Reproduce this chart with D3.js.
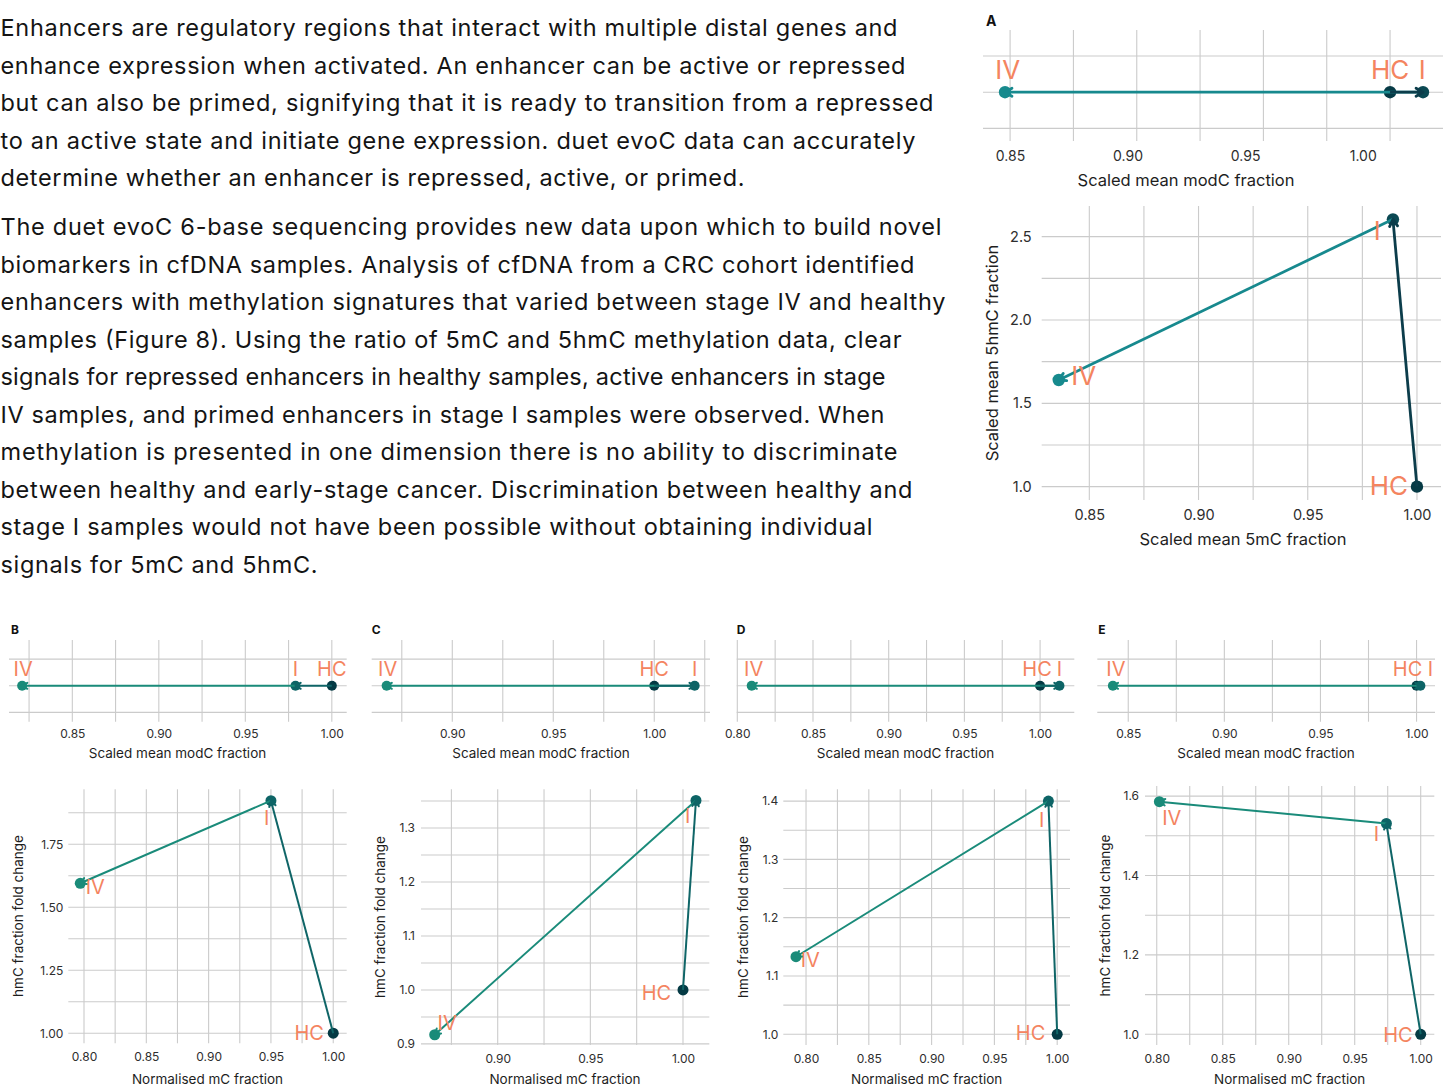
<!DOCTYPE html>
<html>
<head>
<meta charset="utf-8">
<script src="https://cdn.jsdelivr.net/npm/d3@7"></script>
<style>
  html, body { margin: 0; padding: 0; background: #ffffff; }
  svg { display: block; }
</style>
</head>
<body>
<svg id="fig" width="1449" height="1089"></svg>
<script>
// ---------------------------------------------------------------
// Data: stages in path order (HC -> I -> IV)
// ---------------------------------------------------------------
const stages = ["HC", "I", "IV"];

// Panel A
const aModC = [1.000, 1.013, 0.848];
const aMC   = [1.000, 0.989, 0.836];
const aHmC  = [1.000, 2.604, 1.640];
// Panel B
const bModC = [1.000, 0.979, 0.821];
const bMC   = [1.000, 0.950, 0.797];
const bHmC  = [1.000, 1.923, 1.595];
// Panel C
const cModC = [1.000, 1.020, 0.8675];
const cMC   = [1.000, 1.007, 0.866];
const cHmC  = [1.000, 1.351, 0.917];
// Panel D
const dModC = [1.000, 1.0128, 0.8095];
const dMC   = [1.000, 0.993, 0.792];
const dHmC  = [1.000, 1.400, 1.133];
// Panel E
const eModC = [1.000, 1.002, 0.842];
const eMC   = [1.000, 0.974, 0.802];
const eHmC  = [1.000, 1.531, 1.586];

// Tick labels
const aModCTicks = ["0.85", "0.90", "0.95", "1.00"];
const aMCTicks   = ["0.85", "0.90", "0.95", "1.00"];
const aHmCTicks  = ["1.0", "1.5", "2.0", "2.5"];
const bModCTicks = ["0.85", "0.90", "0.95", "1.00"];
const bMCTicks   = ["0.80", "0.85", "0.90", "0.95", "1.00"];
const bHmCTicks  = ["1.00", "1.25", "1.50", "1.75"];
const cModCTicks = ["0.90", "0.95", "1.00"];
const cMCTicks   = ["0.90", "0.95", "1.00"];
const cHmCTicks  = ["0.9", "1.0", "1.1", "1.2", "1.3"];
const dModCTicks = ["0.80", "0.85", "0.90", "0.95", "1.00"];
const dMCTicks   = ["0.80", "0.85", "0.90", "0.95", "1.00"];
const dHmCTicks  = ["1.0", "1.1", "1.2", "1.3", "1.4"];
const eModCTicks = ["0.85", "0.90", "0.95", "1.00"];
const eMCTicks   = ["0.80", "0.85", "0.90", "0.95", "1.00"];
const eHmCTicks  = ["1.0", "1.2", "1.4", "1.6"];

// Body copy
const para1 = [
  "Enhancers are regulatory regions that interact with multiple distal genes and",
  "enhance expression when activated. An enhancer can be active or repressed",
  "but can also be primed, signifying that it is ready to transition from a repressed",
  "to an active state and initiate gene expression. duet evoC data can accurately",
  "determine whether an enhancer is repressed, active, or primed."
];
const para2 = [
  "The duet evoC 6-base sequencing provides new data upon which to build novel",
  "biomarkers in cfDNA samples. Analysis of cfDNA from a CRC cohort identified",
  "enhancers with methylation signatures that varied between stage IV and healthy",
  "samples (Figure 8). Using the ratio of 5mC and 5hmC methylation data, clear",
  "signals for repressed enhancers in healthy samples, active enhancers in stage",
  "IV samples, and primed enhancers in stage I samples were observed. When",
  "methylation is presented in one dimension there is no ability to discriminate",
  "between healthy and early-stage cancer. Discrimination between healthy and",
  "stage I samples would not have been possible without obtaining individual",
  "signals for 5mC and 5hmC."
];

// ---------------------------------------------------------------
// Styling
// ---------------------------------------------------------------
const FF = "Inter, 'Noto Sans', sans-serif";
const GRID = "#cbcbcb";
const TICK = "#2e2e2e";
const TITLE = "#1e1e1e";
const LABEL = "#f4845f";
const BODY = "#141414";

const colA = { HC: "#063a45", I: "#0b4953", IV: "#178a8d", up: "#0c3d4b", down: "#17898e" };
const colBE = { HC: "#043a44", I: "#0d6466", IV: "#1a8b79", up: "#0f6567", down: "#1a8b7a" };

const svg = d3.select("#fig");

// ---------------------------------------------------------------
// Body text
// ---------------------------------------------------------------
const bodyG = svg.append("g")
  .attr("font-family", FF).attr("font-size", 23.5).attr("fill", BODY);
const bodyWidths1 = [897, 905, 933, 915, 744];
const bodyWidths2 = [941, 914, 945, 901, 885, 884, 897, 912, 872, 317];
para1.forEach((t, i) => {
  bodyG.append("text").attr("x", 0.5).attr("y", 36 + 37.5 * i)
    .attr("textLength", bodyWidths1[i]).attr("lengthAdjust", "spacing").text(t);
});
para2.forEach((t, i) => {
  bodyG.append("text").attr("x", 0.5).attr("y", 235 + 37.5 * i)
    .attr("textLength", bodyWidths2[i]).attr("lengthAdjust", "spacing").text(t);
});

// ---------------------------------------------------------------
// Helpers
// ---------------------------------------------------------------
function minorOf(major, dom) {
  const step = major[1] - major[0];
  const out = [];
  for (let k = -1; k < major.length; k++) {
    const v = major[0] + step * (k + 0.5);
    if (v >= dom[0] && v <= dom[1]) out.push(v);
  }
  return out;
}

function arrow(g, p, q, color, w, len) {
  g.append("line")
    .attr("x1", p[0]).attr("y1", p[1]).attr("x2", q[0]).attr("y2", q[1])
    .attr("stroke", color).attr("stroke-width", w);
  const a = Math.atan2(q[1] - p[1], q[0] - p[0]);
  const s = Math.PI / 6;
  const h1 = [q[0] - len * Math.cos(a - s), q[1] - len * Math.sin(a - s)];
  const h2 = [q[0] - len * Math.cos(a + s), q[1] - len * Math.sin(a + s)];
  g.append("path")
    .attr("d", `M${h1[0]},${h1[1]}L${q[0]},${q[1]}L${h2[0]},${h2[1]}`)
    .attr("fill", "none").attr("stroke", color).attr("stroke-width", w)
    .attr("stroke-linejoin", "round").attr("stroke-linecap", "round");
}

function styleAxis(axg, size) {
  axg.select(".domain").remove();
  axg.selectAll("text").attr("font-family", FF).attr("font-size", size).attr("fill", TICK);
}

function drawMarks(g, pts, col, st) {
  // points
  g.selectAll("circle.pt").data(pts).join("circle")
    .attr("class", "pt")
    .attr("cx", d => d.px).attr("cy", d => d.py).attr("r", st.r)
    .attr("fill", d => col[d.stage]);
  // I -> IV, then HC -> I on top
  arrow(g, [pts[1].px, pts[1].py], [pts[2].px, pts[2].py], col.down, st.lw, st.head);
  arrow(g, [pts[0].px, pts[0].py], [pts[1].px, pts[1].py], col.up, st.lw, st.head);
  // stage labels
  g.selectAll("text.lab").data(pts).join("text")
    .attr("class", "lab")
    .attr("x", d => d.px + st.nudge[d.stage][0])
    .attr("y", d => d.py + st.nudge[d.stage][1])
    .attr("text-anchor", "middle").attr("dominant-baseline", "central")
    .attr("font-family", FF).attr("font-size", st.labelSize).attr("fill", LABEL)
    .text(d => d.stage);
}

// One-dimensional strip: modC fraction along x
function drawStrip(vals, ticks, cfg, col, st) {
  const g = svg.append("g");
  const b = cfg.box;
  const x = d3.scaleLinear().domain(cfg.xDom).range([b.x0, b.x1]);
  const y = d3.scaleLinear().domain([-1.35, 1.72]).range([b.y1, b.y0]);
  const major = ticks.map(Number);
  const vx = major.concat(minorOf(major, cfg.xDom));

  g.selectAll("line.gv").data(vx).join("line").attr("class", "gv")
    .attr("x1", d => x(d)).attr("x2", d => x(d)).attr("y1", b.y0).attr("y2", b.y1)
    .attr("stroke", GRID).attr("stroke-width", 1.1);
  g.selectAll("line.gh").data([-1, 0, 1]).join("line").attr("class", "gh")
    .attr("x1", b.x0).attr("x2", b.x1).attr("y1", d => y(d)).attr("y2", d => y(d))
    .attr("stroke", GRID).attr("stroke-width", 1.1);

  // tick labels may sit on their own (slightly tighter) label scale
  const xl = cfg.labelRange
    ? d3.scaleLinear().domain([major[0], major[major.length - 1]]).range(cfg.labelRange)
    : x;
  const axg = g.append("g").attr("transform", `translate(0,${b.y1})`)
    .call(d3.axisBottom(xl).tickValues(major).tickFormat((d, i) => ticks[i])
      .tickSize(0).tickPadding(cfg.pad));
  styleAxis(axg, cfg.tickSize);

  g.append("text").attr("x", cfg.title[0]).attr("y", cfg.title[1])
    .attr("text-anchor", "middle").attr("dominant-baseline", "central")
    .attr("font-family", FF).attr("font-size", cfg.titleSize).attr("fill", TITLE)
    .text("Scaled mean modC fraction");

  const pts = stages.map((s, i) => ({ stage: s, px: x(vals[i]), py: y(0) }));
  drawMarks(g, pts, col, st);
}

// Two-dimensional: mC (x) versus hmC (y)
function drawScatter(xv, yv, xt, yt, cfg, col, st) {
  const g = svg.append("g");
  const b = cfg.box;
  const x = d3.scaleLinear().domain(cfg.xDom).range([b.x0, b.x1]);
  const y = d3.scaleLinear().domain(cfg.yDom).range([b.y1, b.y0]);
  const mx = xt.map(Number), my = yt.map(Number);
  const vx = mx.concat(minorOf(mx, cfg.xDom));
  const vy = my.concat(minorOf(my, cfg.yDom));

  g.selectAll("line.gv").data(vx).join("line").attr("class", "gv")
    .attr("x1", d => x(d)).attr("x2", d => x(d)).attr("y1", b.y0).attr("y2", b.y1)
    .attr("stroke", GRID).attr("stroke-width", 1.1);
  g.selectAll("line.gh").data(vy).join("line").attr("class", "gh")
    .attr("x1", b.x0).attr("x2", b.x1).attr("y1", d => y(d)).attr("y2", d => y(d))
    .attr("stroke", GRID).attr("stroke-width", 1.1);

  const axb = g.append("g").attr("transform", `translate(0,${b.y1})`)
    .call(d3.axisBottom(x).tickValues(mx).tickFormat((d, i) => xt[i])
      .tickSize(0).tickPadding(cfg.xPad));
  styleAxis(axb, cfg.tickSize);
  const axl = g.append("g").attr("transform", `translate(${b.x0},0)`)
    .call(d3.axisLeft(y).tickValues(my).tickFormat((d, i) => yt[i])
      .tickSize(0).tickPadding(cfg.yPad));
  styleAxis(axl, cfg.tickSize);

  g.append("text").attr("x", cfg.xTitle[0]).attr("y", cfg.xTitle[1])
    .attr("text-anchor", "middle").attr("dominant-baseline", "central")
    .attr("font-family", FF).attr("font-size", cfg.titleSize).attr("fill", TITLE)
    .text(cfg.xLabel);
  g.append("text")
    .attr("transform", `translate(${cfg.yTitle[0]},${cfg.yTitle[1]}) rotate(-90)`)
    .attr("text-anchor", "middle").attr("dominant-baseline", "central")
    .attr("font-family", FF).attr("font-size", cfg.titleSize).attr("fill", TITLE)
    .text(cfg.yLabel);

  const pts = stages.map((s, i) => ({ stage: s, px: x(xv[i]), py: y(yv[i]) }));
  drawMarks(g, pts, col, st);
}

function panelLetter(t, px, py, size) {
  svg.append("text").attr("x", px).attr("y", py).attr("dominant-baseline", "central")
    .attr("font-family", FF).attr("font-size", size).attr("font-weight", 700)
    .attr("fill", "#111").text(t);
}

// ---------------------------------------------------------------
// Panel A (large)
// ---------------------------------------------------------------
panelLetter("A", 986, 20.5, 14);
drawStrip(aModC, aModCTicks,
  { box: { x0: 983, x1: 1443, y0: 30, y1: 141 }, xDom: [0.8393, 1.0209],
    labelRange: [1010, 1362.7],
    pad: 10, tickSize: 14, title: [1186, 180], titleSize: 16.5 },
  colA,
  { r: 6.2, lw: 2.8, head: 8, labelSize: 26,
    nudge: { HC: [0, -23], I: [-0.7, -23], IV: [2.7, -23] } });
drawScatter(aMC, aHmC, aMCTicks, aHmCTicks,
  { box: { x0: 1041.7, x1: 1441, y0: 206, y1: 500 },
    xDom: [0.8282, 1.0110], yDom: [0.920, 2.684],
    xPad: 10, yPad: 10, tickSize: 14.5, titleSize: 16.5,
    xTitle: [1243, 539], yTitle: [992, 353],
    xLabel: "Scaled mean 5mC fraction", yLabel: "Scaled mean 5hmC fraction" },
  colA,
  { r: 6.2, lw: 2.8, head: 8, labelSize: 26,
    nudge: { HC: [-28, -1.5], I: [-15.6, 10.7], IV: [25, -5] } });

// ---------------------------------------------------------------
// Panels B-E
// ---------------------------------------------------------------
const stripStyle = (n) => ({ r: 5, lw: 2, head: 6, labelSize: 20, nudge: n });
const scatStyle = (n) => ({ r: 5.5, lw: 2, head: 6.5, labelSize: 20, nudge: n });
const scatLabels = { xLabel: "Normalised mC fraction", yLabel: "hmC fraction fold change" };

// B
panelLetter("B", 11, 629.5, 12);
drawStrip(bModC, bModCTicks,
  { box: { x0: 9, x1: 346.7, y0: 640, y1: 721.7 }, xDom: [0.8134, 1.0086],
    pad: 7.5, tickSize: 12, title: [177.5, 752.7], titleSize: 13.5 },
  colBE, stripStyle({ HC: [0, -17], I: [0, -17], IV: [1, -17] }));
drawScatter(bMC, bHmC, bMCTicks, bHmCTicks,
  Object.assign({ box: { x0: 68.3, x1: 346.7, y0: 789.3, y1: 1043.3 },
    xDom: [0.7874, 1.0108], yDom: [0.960, 1.968],
    xPad: 9.5, yPad: 5, tickSize: 12, titleSize: 13.5,
    xTitle: [207.5, 1079], yTitle: [18, 916] }, scatLabels),
  colBE, scatStyle({ HC: [-24, 0], I: [-4.3, 17.6], IV: [15, 3.4] }));

// C
panelLetter("C", 371.7, 629.5, 12);
drawStrip(cModC, cModCTicks,
  { box: { x0: 371.7, x1: 710, y0: 640, y1: 721.7 }, xDom: [0.8601, 1.0276],
    pad: 7.5, tickSize: 12, title: [541, 752.7], titleSize: 13.5 },
  colBE, stripStyle({ HC: [0, -17], I: [0, -17], IV: [1, -17] }));
drawScatter(cMC, cHmC, cMCTicks, cHmCTicks,
  Object.assign({ box: { x0: 421, x1: 709.3, y0: 789.3, y1: 1045 },
    xDom: [0.8586, 1.0142], yDom: [0.898, 1.3717],
    xPad: 9.5, yPad: 6, tickSize: 12, titleSize: 13.5,
    xTitle: [565, 1079], yTitle: [380, 917] }, scatLabels),
  colBE, scatStyle({ HC: [-26.6, 2.7], I: [-8.3, 16], IV: [12.4, -11.7] }));

// D
panelLetter("D", 736.7, 629.5, 12);
drawStrip(dModC, dModCTicks,
  { box: { x0: 736.7, x1: 1074.3, y0: 640, y1: 721.7 }, xDom: [0.7996, 1.0226],
    pad: 7.5, tickSize: 12, title: [905.5, 752.7], titleSize: 13.5 },
  colBE, stripStyle({ HC: [-3, -17], I: [0, -17], IV: [2, -17] }));
drawScatter(dMC, dHmC, dMCTicks, dHmCTicks,
  Object.assign({ box: { x0: 783.3, x1: 1070, y0: 789.3, y1: 1045 },
    xDom: [0.7819, 1.0102], yDom: [0.9816, 1.4202],
    xPad: 9.5, yPad: 5, tickSize: 12, titleSize: 13.5,
    xTitle: [926.7, 1079], yTitle: [743, 917] }, scatLabels),
  colBE, scatStyle({ HC: [-26.6, -1], I: [-6.6, 19], IV: [14.3, 3.3] }));

// E
panelLetter("E", 1098.3, 629.5, 12);
drawStrip(eModC, eModCTicks,
  { box: { x0: 1097.3, x1: 1435, y0: 640, y1: 721.7 }, xDom: [0.8339, 1.0096],
    pad: 7.5, tickSize: 12, title: [1266, 752.7], titleSize: 13.5 },
  colBE, stripStyle({ HC: [-9, -17], I: [10, -17], IV: [3, -17] }));
drawScatter(eMC, eHmC, eMCTicks, eHmCTicks,
  Object.assign({ box: { x0: 1145, x1: 1434.3, y0: 786, y1: 1045 },
    xDom: [0.7911, 1.0103], yDom: [0.973, 1.6255],
    xPad: 9.5, yPad: 6, tickSize: 12, titleSize: 13.5,
    xTitle: [1289.7, 1079], yTitle: [1105, 915.5] }, scatLabels),
  colBE, scatStyle({ HC: [-22.7, 0.7], I: [-10, 10], IV: [12.4, 16] }));
</script>
</body>
</html>
